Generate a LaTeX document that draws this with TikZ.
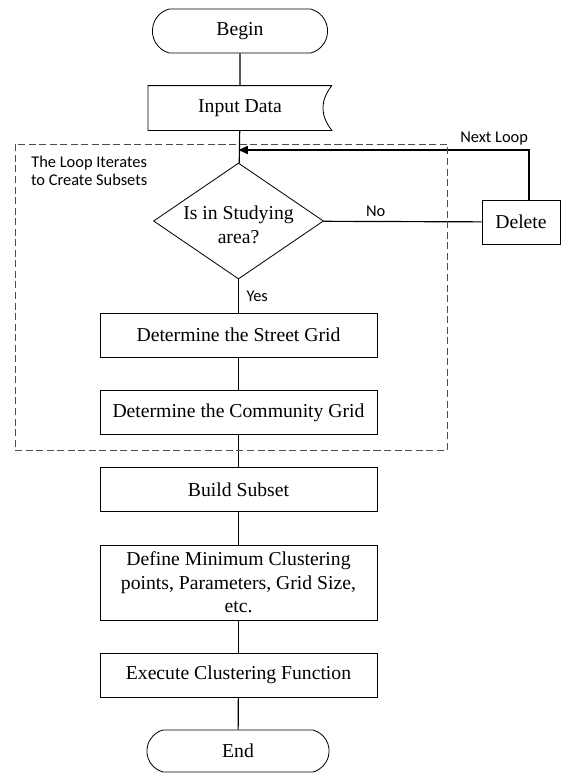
\documentclass[tikz,border=0pt]{standalone}
\usepackage{fontspec}
\setmainfont{Liberation Serif}
\newfontfamily\calibri{Carlito}
\usetikzlibrary{shapes.geometric,shapes.misc,arrows.meta}

\begin{document}
\begin{tikzpicture}[x=0.03cm,y=-0.03cm,
		box/.style={rectangle, draw, line width=0.7pt, minimum width=8.31cm, minimum height=1.32cm, inner sep=2pt, align=center, font=\fontsize{16.8}{20}\selectfont},
		term/.style={rounded rectangle, rounded rectangle arc length=150, draw, line width=0.7pt, minimum width=5.49cm, minimum height=1.32cm, font=\fontsize{16.8}{20}\selectfont},
		note/.style={font=\calibri\fontsize{14}{15}\selectfont},
		link/.style={line width=1pt}]
		
		\useasboundingbox (0,0) rectangle (566,773);
		
		\node[term] 
		(begin) at (240,31) {Begin};
		
		\node[box, draw=none, minimum width=5.49cm] 
		(input) at (240,108) {Input Data};
		\draw[line width=0.7pt] (input.north east) -- (input.north west) -- (input.south west) -- (input.south east) .. controls +(-12,-15) and +(-12,15) .. (input.north east);
		
		\node[diamond, draw, line width=0.7pt, minimum width=5.1cm, minimum height=3.48cm, inner sep=0pt] 
		(check) at (238.5,221) {};
		\node[align=center, font=\fontsize{16.8}{20}\selectfont] 
		(checktext) at (238.5,225) {Is in Studying\\area?};
		
		\node[box, minimum width=2.34cm] 
		(delete) at (521,222) {Delete};
		
		\node[box] 
		(street) at (238.5,335) {Determine the Street Grid};
		
		\node[box] 
		(community) at (238.5,412.5) {Determine the Community Grid};
		
		\node[box] 
		(build) at (238.5,489.5) {Build Subset};
		
		\node[box, minimum height=2.25cm] 
		(define) at (238.5,582.5) {Define Minimum Clustering\\points, Parameters, Grid Size,\\etc.};
		
		\node[box] 
		(execute) at (238.5,675) {Execute Clustering Function};
		
		\node[term, minimum width=5.7cm, minimum height=1.26cm] 
		(end) at (238,751) {End};
		
		\coordinate (merge) at (238.5,150);
		\coordinate (turn) at (529,150);
		
		% Edges...
		
		\draw[link] (begin) -- (input);
		\draw[link] (input) -- (check);
		\draw[link] (check) -- node[note, right, xshift=3pt]{Yes} (street);
		\draw[link] (check) -- node[note, above, pos=0.33]{No} (delete);
		\draw[link, -{Triangle[length=8pt,width=7pt]}] (delete.north -| turn) |- node[note, above, pos=0.56]{Next Loop} (merge);
		
		\draw[link] (street) -- (community);
		\draw[link] (community) -- (build);
		\draw[link] (build) -- (define);
		\draw[link] (define) -- (execute);
		\draw[link] (execute) -- (end);
		
		% Frames
		
		\node[rectangle, draw=black!70, dashed, dash pattern=on 6pt off 3pt, line width=0.8pt, minimum width=12.96cm, minimum height=9.18cm] 
		(loopframe) at (231,297) {};
		\node[note, align=center, anchor=north west] 
		(looplabel) at (27,152) {The Loop Iterates\\to Create Subsets};
		
	\end{tikzpicture}
\end{document}
